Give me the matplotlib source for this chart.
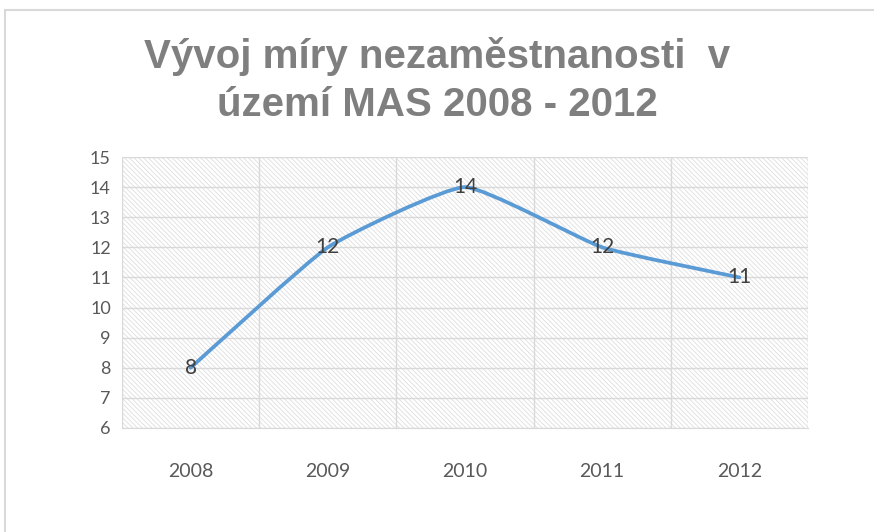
import numpy as np
import matplotlib.pyplot as plt
from matplotlib.path import Path
from matplotlib.patches import PathPatch, Rectangle

years = ['2008', '2009', '2010', '2011', '2012']
rate = [8, 12, 14, 12, 11]
labels = ['8', '12', '14', '12', '11']

plt.rcParams['hatch.color'] = '#dedede'
plt.rcParams['hatch.linewidth'] = 0.6

fig = plt.figure(figsize=(8.74, 5.32), dpi=100)
# outer chart frame (runs off the right and bottom edges)
fig.patches.append(Rectangle((5 / 874, -0.05), 1.0, 1 - 10 / 532 + 0.05,
                             transform=fig.transFigure, fill=False,
                             edgecolor='#d9d9d9', linewidth=1.5))

ax = fig.add_axes([122 / 874, 1 - 428 / 532, 686 / 874, 271 / 532])
ax.add_patch(Rectangle((0, 0), 1, 1, transform=ax.transAxes, facecolor='white',
                       hatch='\\' * 7, edgecolor='#dedede', linewidth=0, zorder=0))

# lightly smoothed line (bezier through the points)
k = 1 / 14
x = np.arange(len(rate), dtype=float)
y = np.array(rate, dtype=float)
px = np.concatenate([[x[0]], x, [x[-1]]])
py = np.concatenate([[y[0]], y, [y[-1]]])
verts = [(x[0], y[0])]
codes = [Path.MOVETO]
for i in range(len(x) - 1):
    c1 = (px[i + 1] + (px[i + 2] - px[i]) * k, py[i + 1] + (py[i + 2] - py[i]) * k)
    c2 = (px[i + 2] - (px[i + 3] - px[i + 1]) * k, py[i + 2] - (py[i + 3] - py[i + 1]) * k)
    verts += [c1, c2, (x[i + 1], y[i + 1])]
    codes += [Path.CURVE4] * 3
ax.add_patch(PathPatch(Path(verts, codes), facecolor='none', edgecolor='#5b9bd5',
                       linewidth=2.7, capstyle='round', joinstyle='round', zorder=3))

for xi, yi, lab in zip(x, y, labels):
    ax.text(xi, yi, lab, ha='center', va='center', fontsize=15, color='#404040',
            family='Lato', zorder=4)

ax.set_xlim(-0.5, len(years) - 0.5)
ax.set_ylim(6, 15)
ax.set_yticks(range(6, 16))
ax.set_xticks(x)
ax.set_xticklabels(years)
ax.set_xticks(np.arange(-0.5, len(years), 1), minor=True)
ax.grid(True, axis='y', color='#d9d9d9', linewidth=1, zorder=1)
ax.grid(True, axis='x', which='minor', color='#d9d9d9', linewidth=1, zorder=1)
ax.set_axisbelow(True)
for s in ['top', 'right', 'left']:
    ax.spines[s].set_visible(False)
ax.spines['bottom'].set_color('#d9d9d9')
ax.tick_params(axis='both', which='both', length=0, colors='#595959', labelsize=13)
ax.tick_params(axis='x', labelsize=14, pad=25)
ax.tick_params(axis='y', pad=8)
for t in ax.get_xticklabels() + ax.get_yticklabels():
    t.set_family('Lato')

fig.text(0.5, 1 - 57 / 532, 'Vývoj míry nezaměstnanosti  v', ha='center', va='center',
         fontsize=29, fontweight='bold', color='#7f7f7f', family='Liberation Sans')
fig.text(0.5, 1 - 105 / 532, 'území MAS 2008 - 2012', ha='center', va='center',
         fontsize=29, fontweight='bold', color='#7f7f7f', family='Liberation Sans')

fig.savefig('out.png', dpi=100)
